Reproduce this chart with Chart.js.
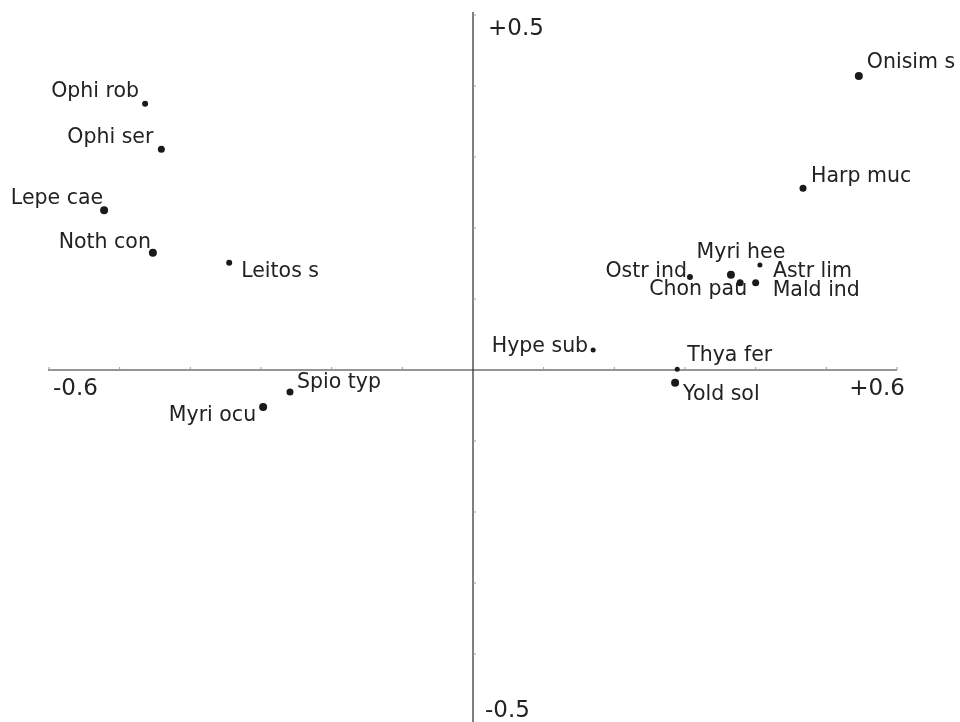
<!DOCTYPE html>
<html>
<head>
<meta charset="utf-8">
<script src="https://cdn.jsdelivr.net/npm/chart.js@4/dist/chart.umd.min.js"></script>
<style>
html,body{margin:0;padding:0;background:#fff;overflow:hidden;width:960px;height:722px;}
canvas{display:block;}
</style>
</head>
<body>
<canvas id="c" width="960" height="730"></canvas>
<script>
// ---- data ----
const species = ["Ophi rob","Ophi ser","Lepe cae","Noth con","Leitos s","Spio typ","Myri ocu",
  "Hype sub","Thya fer","Yold sol","Ostr ind","Myri hee","Chon pau","Astr lim","Mald ind","Onisim s","Harp muc"];
const axis1 = [-0.464,-0.441,-0.522,-0.453,-0.345,-0.259,-0.297,
  0.170,0.289,0.286,0.307,0.365,0.378,0.406,0.400,0.546,0.467];
const axis2 = [0.375,0.311,0.225,0.165,0.151,-0.031,-0.052,
  0.028,0.001,-0.018,0.131,0.134,0.123,0.148,0.123,0.414,0.256];
const xTickLabels = ["-0.6","+0.6"];
const yTickLabels = ["+0.5","-0.5"];
const xRange = [-0.6, 0.6];
const yRange = [-0.5, 0.5];

// ---- styles (label placement relative to point, in px) ----
const labelPlace = [
  ["right",-6,-12],["right",-8,-12],["right",-1,-12],["right",-2,-10],["left",12,9],
  ["left",7,-9],["right",-7,9],["right",-5,-3],["left",10,-14],["left",8,12],
  ["right",-3,-5],["center",10,-22],["right",7,7],["left",13,7],["left",17,8],
  ["left",8,-13],["left",8,-12]
];
const pointSizes = [3,3.5,4,4,3,3.5,4,2.5,2.5,4,3,4,3.5,2.5,3.5,4,3.5];

const points = species.map((s,i)=>({x:axis1[i], y:axis2[i]}));
const FONT = '"DejaVu Sans", sans-serif';

const axesPlugin = {
  id:'ordAxes',
  beforeDatasetsDraw(chart){
    const ctx = chart.ctx, xs = chart.scales.x, ys = chart.scales.y;
    const x0 = xs.getPixelForValue(0), y0 = ys.getPixelForValue(0);
    ctx.save();
    ctx.strokeStyle = '#2a2a2a';
    ctx.lineWidth = 1.2;
    ctx.beginPath();
    ctx.moveTo(xs.getPixelForValue(xRange[0]) - 1, y0);
    ctx.lineTo(xs.getPixelForValue(xRange[1]), y0);
    ctx.moveTo(x0, ys.getPixelForValue(yRange[1]) - 3);
    ctx.lineTo(x0, ys.getPixelForValue(yRange[0]));
    ctx.stroke();
    // ticks
    ctx.strokeStyle = '#999';
    ctx.lineWidth = 1;
    ctx.beginPath();
    for (let k = -6; k <= 6; k++) {
      if (k === 0) continue;
      const px = xs.getPixelForValue(k/10);
      ctx.moveTo(px, y0); ctx.lineTo(px, y0 - 3);
    }
    for (let k = -5; k <= 5; k++) {
      if (k === 0) continue;
      const py = ys.getPixelForValue(k/10);
      ctx.moveTo(x0, py); ctx.lineTo(x0 + 3, py);
    }
    ctx.stroke();
    // end labels
    ctx.fillStyle = '#222';
    ctx.font = '23px ' + FONT;
    ctx.textBaseline = 'middle';
    ctx.textAlign = 'left';
    ctx.fillText(xTickLabels[0], xs.getPixelForValue(xRange[0]) + 4, y0 + 19);
    ctx.textAlign = 'right';
    ctx.fillText(xTickLabels[1], xs.getPixelForValue(xRange[1]) + 8, y0 + 19);
    ctx.textAlign = 'left';
    ctx.fillText(yTickLabels[0], x0 + 15, ys.getPixelForValue(yRange[1]) + 14);
    ctx.fillText(yTickLabels[1], x0 + 12, ys.getPixelForValue(yRange[0]) - 14);
    ctx.restore();
  },
  afterDatasetsDraw(chart){
    const ctx = chart.ctx, meta = chart.getDatasetMeta(0);
    ctx.save();
    ctx.fillStyle = '#222';
    ctx.font = '20.5px ' + FONT;
    ctx.textBaseline = 'middle';
    meta.data.forEach((el,i)=>{
      const p = labelPlace[i];
      ctx.textAlign = p[0];
      ctx.fillText(species[i], el.x + p[1], el.y + p[2]);
    });
    ctx.restore();
  }
};

new Chart(document.getElementById('c'), {
  type:'scatter',
  data:{datasets:[{data:points, backgroundColor:'#1a1a1a', borderColor:'#1a1a1a',
    pointRadius:pointSizes, pointHoverRadius:pointSizes, borderWidth:0}]},
  options:{
    responsive:false, animation:false, devicePixelRatio:1,
    layout:{padding:{left:49, right:63, top:15, bottom:5}},
    plugins:{legend:{display:false}, tooltip:{enabled:false}},
    scales:{
      x:{type:'linear', min:xRange[0], max:xRange[1], display:false},
      y:{type:'linear', min:yRange[0], max:yRange[1], display:false}
    }
  },
  plugins:[axesPlugin]
});
</script>
</body>
</html>
